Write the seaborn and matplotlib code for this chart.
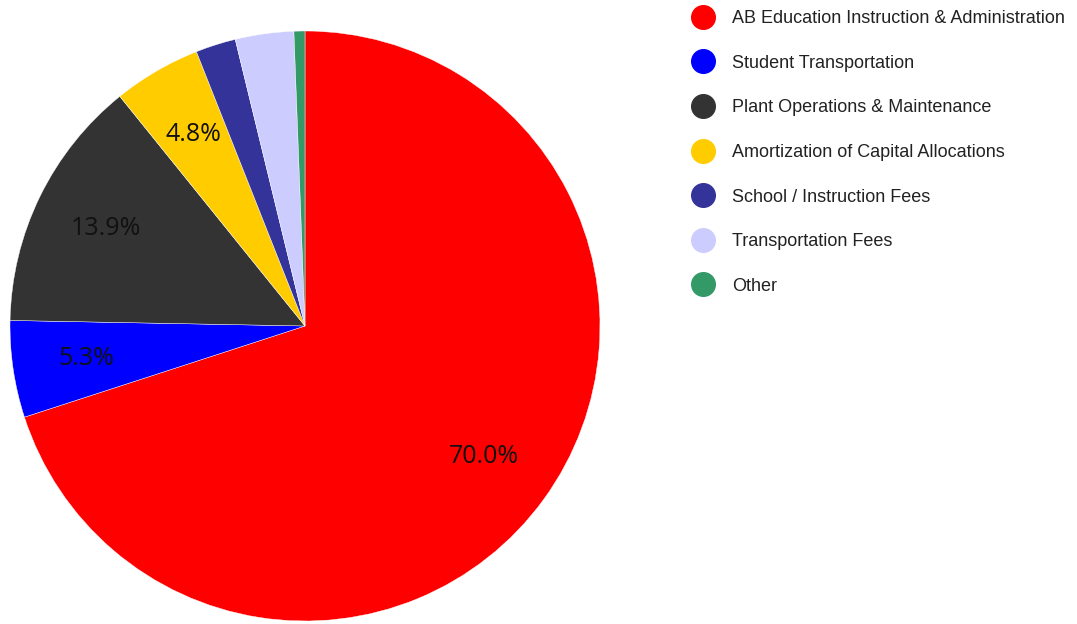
import matplotlib
matplotlib.use("Agg")
import matplotlib.pyplot as plt
import seaborn as sns
from matplotlib.lines import Line2D

# Data
categories = [
    "AB Education Instruction & Administration",
    "Student Transportation",
    "Plant Operations & Maintenance",
    "Amortization of Capital Allocations",
    "School / Instruction Fees",
    "Transportation Fees",
    "Other",
]
shares = [70.0, 5.3, 13.9, 4.8, 2.2, 3.2, 0.6]
colors = ["#ff0000", "#0000ff", "#333333", "#ffcc00", "#333399", "#ccccff", "#339966"]

sns.set_theme(style="white")
plt.rcParams["font.family"] = ["Liberation Sans", "DejaVu Sans"]

W, H = 1077, 624
fig = plt.figure(figsize=(W / 100, H / 100), dpi=100)

# pie centre (305, 326) px, radius 295 px
cx, cy, r = 305, 326, 295
ax = fig.add_axes([(cx - r) / W, (H - cy - r) / H, 2 * r / W, 2 * r / H])


def pct_label(p):
    return f"{p:.1f}%" if p >= 4 else ""


wedges, texts, autotexts = ax.pie(
    shares,
    colors=colors,
    startangle=90,
    counterclock=False,
    autopct=pct_label,
    pctdistance=0.75,
    radius=1.0,
    wedgeprops=dict(linewidth=0.3, edgecolor="white"),
    textprops=dict(fontsize=18, color="#111111", family=["Open Sans", "DejaVu Sans"]),
)
ax.set_xlim(-1, 1)
ax.set_ylim(-1, 1)
ax.set_aspect("equal")
ax.axis("off")

# legend with round markers
handles = [
    Line2D([0], [0], marker="o", linestyle="none", markersize=17,
           markerfacecolor=c, markeredgecolor=c)
    for c in colors
]
fig.legend(
    handles, categories,
    loc="upper left",
    bbox_to_anchor=(692 / W, 1 - 10 / H),
    frameon=False,
    fontsize=13,
    labelcolor="#222222",
    handlelength=1.22,
    handletextpad=1.0,
    labelspacing=1.53,
    borderpad=0,
    borderaxespad=0,
)

fig.savefig("out.png", dpi=100)
